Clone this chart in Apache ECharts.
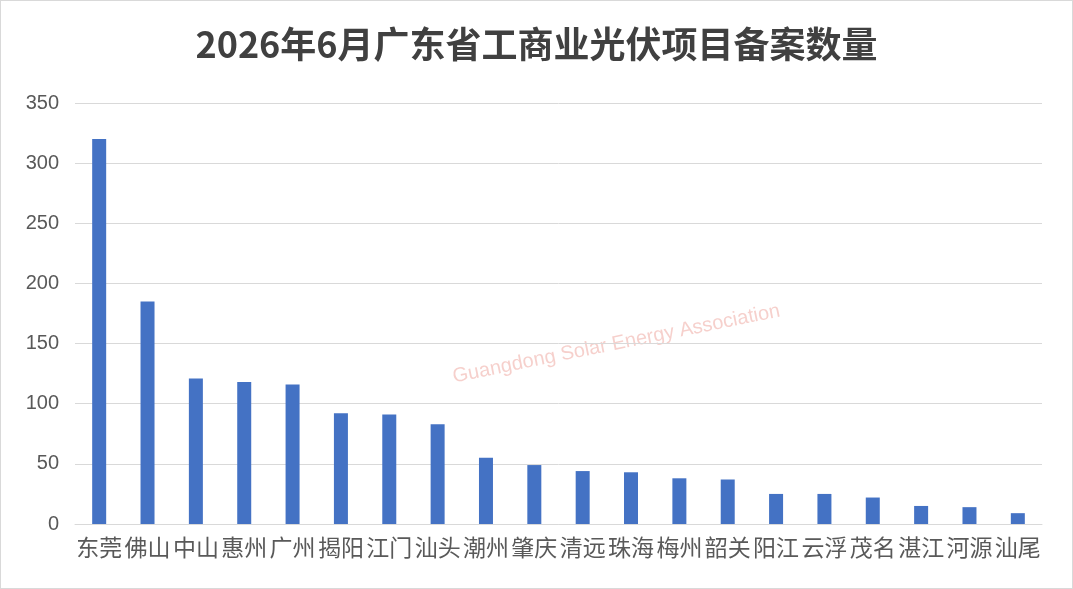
<!DOCTYPE html>
<html>
<head>
<meta charset="utf-8">
<script src="https://cdn.jsdelivr.net/npm/echarts@6/dist/echarts.min.js"></script>
<style>
  html, body { margin: 0; padding: 0; background: #fff; }
  #main { width: 1071px; height: 587px; border: 1px solid #d9d9d9; }
</style>
</head>
<body>
<div id="main"></div>
<script>
var cities = ['东莞', '佛山', '中山', '惠州', '广州', '揭阳', '江门', '汕头', '潮州', '肇庆',
              '清远', '珠海', '梅州', '韶关', '阳江', '云浮', '茂名', '湛江', '河源', '汕尾'];
var counts = [320, 185, 121, 118, 116, 92, 91, 83, 55, 49, 44, 43, 38, 37, 25, 25, 22, 15, 14, 9];
var yTicks = { min: 0, max: 350, interval: 50 };

var myChart = echarts.init(document.getElementById('main'));
var option = {
  title: {
    text: '2026年6月广东省工商业光伏项目备案数量',
    left: 'center',
    top: 20,
    textStyle: { fontSize: 36, fontWeight: 'bold', color: '#404040', fontFamily: 'Noto Sans CJK SC' }
  },
  graphic: [{
    type: 'text',
    left: 450,
    top: 300,
    rotation: 0.2,
    style: { text: 'Guangdong Solar Energy Association', fontSize: 20, fill: 'rgba(230,120,110,0.35)', fontFamily: 'Liberation Sans' }
  }],
  grid: { left: 74, right: 30, top: 102, bottom: 64 },
  xAxis: {
    type: 'category',
    data: cities,
    axisTick: { show: false },
    axisLine: { lineStyle: { color: '#d9d9d9' } },
    axisLabel: { color: '#595959', fontSize: 23, interval: 0, margin: 12, fontFamily: 'Noto Sans CJK SC' }
  },
  yAxis: {
    type: 'value',
    min: yTicks.min,
    max: yTicks.max,
    interval: yTicks.interval,
    axisLine: { show: false },
    axisTick: { show: false },
    splitLine: { lineStyle: { color: '#d9d9d9' } },
    axisLabel: { color: '#595959', fontSize: 20, margin: 16, fontFamily: 'Liberation Sans' }
  },
  series: [{
    type: 'bar',
    data: counts,
    barWidth: 14,
    itemStyle: { color: '#4472c4' }
  }]
};
myChart.setOption(option);
</script>
</body>
</html>
